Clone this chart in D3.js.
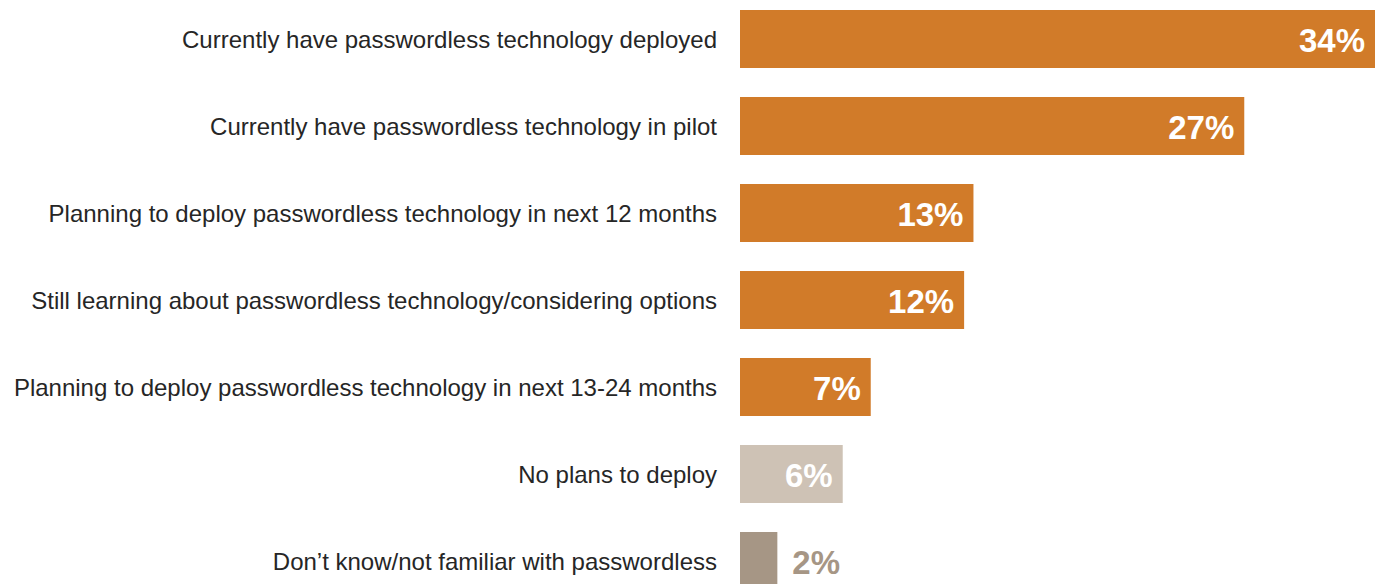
<!DOCTYPE html>
<html>
<head>
<meta charset="utf-8">
<script src="https://cdn.jsdelivr.net/npm/d3@7"></script>
<style>
    body { margin: 0; background: #fff; }
    svg { display: block; font-family: "Liberation Sans", Arial, sans-serif; }
</style>
</head>
<body>
<div id="canvas"></div>
<script>
"use strict"

let svgWidth = 1384
let svgHeight = 584

let categories = [
    "Currently have passwordless technology deployed",
    "Currently have passwordless technology in pilot",
    "Planning to deploy passwordless technology in next 12 months",
    "Still learning about passwordless technology/considering options",
    "Planning to deploy passwordless technology in next 13-24 months",
    "No plans to deploy",
    "Don\u2019t know/not familiar with passwordless"
]
let values = [34, 27, 12.5, 12, 7, 5.5, 2]
let valueLabels = ["34%", "27%", "13%", "12%", "7%", "6%", "2%"]
let barColors = ["#d17b29", "#d17b29", "#d17b29", "#d17b29", "#d17b29", "#cec2b5", "#a69685"]

let svg = d3.select("#canvas")
    .append("svg")
    .attr("width", svgWidth)
    .attr("height", svgHeight)

let xScale = d3.scaleLinear()
    .domain([0, 34])
    .range([740, 1375])

let yScale = d3.scaleBand()
    .domain(categories)
    .range([-4.5, 604.5])
    .paddingInner(1 / 3)
    .paddingOuter(1 / 6)

let rows = categories.map(function (c, i) {
    return { cat: c, value: values[i], label: valueLabels[i], color: barColors[i] }
})

svg.selectAll("rect.bar")
    .data(rows)
    .join("rect")
    .classed("bar", true)
    .attr("x", xScale(0))
    .attr("y", d => yScale(d.cat))
    .attr("width", d => xScale(d.value) - xScale(0))
    .attr("height", yScale.bandwidth())
    .attr("fill", d => d.color)

/* category labels on the left */
svg.selectAll("text.cat")
    .data(rows)
    .join("text")
    .classed("cat", true)
    .attr("x", 717)
    .attr("y", d => yScale(d.cat) + yScale.bandwidth() / 2 + 8.5)
    .attr("text-anchor", "end")
    .attr("font-size", 24)
    .attr("fill", "#262626")
    .text(d => d.cat)

/* value labels: inside the bar, or just after it if the bar is short */
svg.selectAll("text.val")
    .data(rows)
    .join("text")
    .classed("val", true)
    .attr("x", function (d) {
        if (d.value < 4) {
            return xScale(d.value) + 15
        }
        return xScale(d.value) - 10
    })
    .attr("y", d => yScale(d.cat) + yScale.bandwidth() / 2 + 12.5)
    .attr("text-anchor", d => d.value < 4 ? "start" : "end")
    .attr("font-size", 33)
    .attr("font-weight", "bold")
    .attr("fill", d => d.value < 4 ? d.color : "#ffffff")
    .text(d => d.label)
</script>
</body>
</html>
